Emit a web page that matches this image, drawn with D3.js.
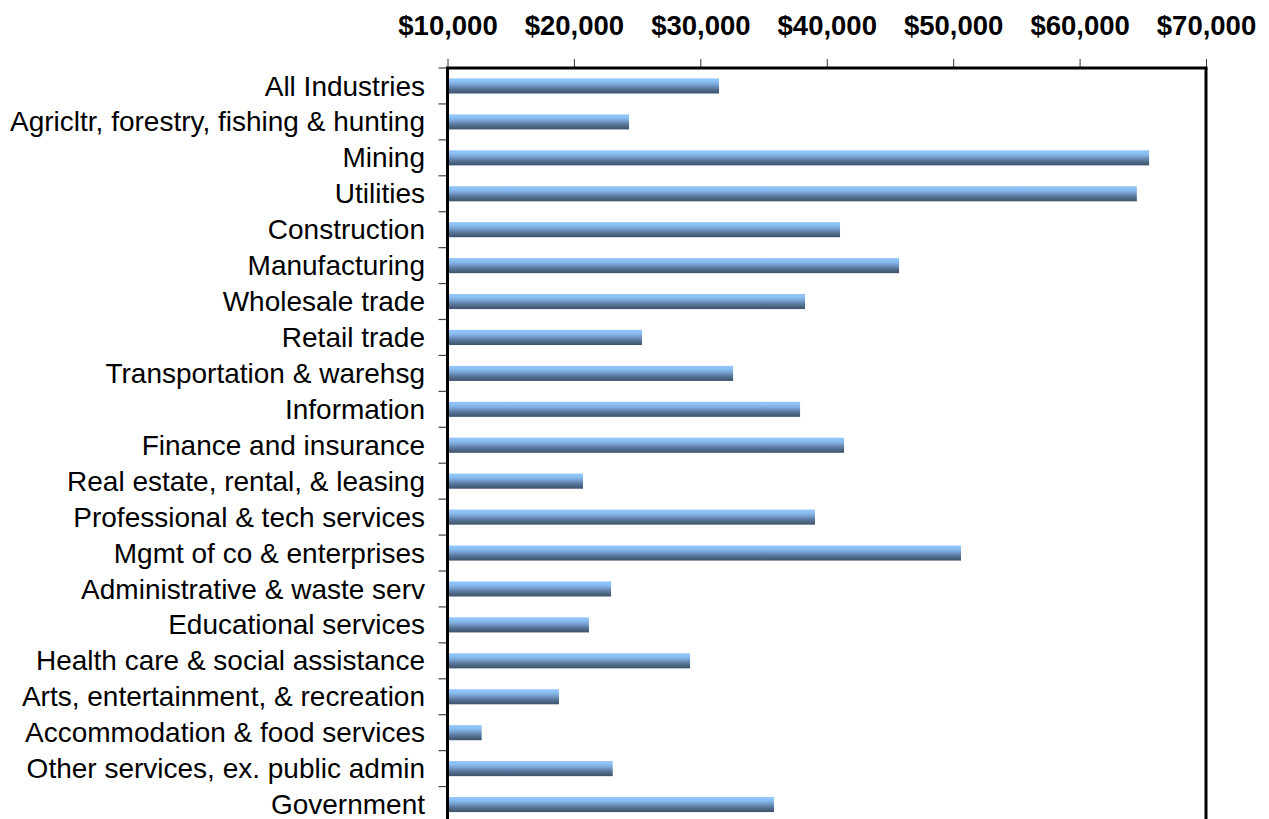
<!DOCTYPE html>
<html>
<head>
<meta charset="utf-8">
<script src="https://cdn.jsdelivr.net/npm/d3@7"></script>
<style>
  html, body { margin: 0; padding: 0; background: #fff; }
  svg { display: block; }
</style>
</head>
<body>
<svg id="chart" width="1269" height="819"></svg>
<script>
const categories = [
  "All Industries",
  "Agricltr, forestry, fishing & hunting",
  "Mining",
  "Utilities",
  "Construction",
  "Manufacturing",
  "Wholesale trade",
  "Retail trade",
  "Transportation & warehsg",
  "Information",
  "Finance and insurance",
  "Real estate, rental, & leasing",
  "Professional & tech services",
  "Mgmt of co & enterprises",
  "Administrative & waste serv",
  "Educational services",
  "Health care & social assistance",
  "Arts, entertainment, & recreation",
  "Accommodation & food services",
  "Other services, ex. public admin",
  "Government"
];
const values = [
  31480, 24360, 65500, 64530, 41050, 45720, 38280, 25390, 32590, 37890,
  41370, 20720, 39070, 50620, 22940, 21190, 29190, 18820, 12700, 23070, 35830
];
const tickValues = [10000, 20000, 30000, 40000, 50000, 60000, 70000];

(function () {
const svg = d3.select("#chart");

const pLeft = 447.5, pRight = 1206, pTop = 68, pBottom = 822.5;

const x = d3.scaleLinear().domain([10000, 70000]).range([pLeft, pRight]);
const y = d3.scaleBand().domain(categories).range([pTop, pBottom])
  .paddingInner(0.58).paddingOuter(0.29);

// gradient
const defs = svg.append("defs");
const grad = defs.append("linearGradient").attr("id", "barGrad")
  .attr("x1", 0).attr("y1", 0).attr("x2", 0).attr("y2", 1);
[
  [0, "#93c7fb"], [0.2, "#8cc0f4"], [0.4, "#7aa7d8"],
  [0.6, "#6383ab"], [0.8, "#4d6785"], [1, "#3d536c"]
].forEach(([o, c]) => grad.append("stop").attr("offset", o).attr("stop-color", c));

// bars
svg.append("g").selectAll("rect")
  .data(categories)
  .join("rect")
  .attr("x", x(10000))
  .attr("y", d => y(d))
  .attr("width", (d, i) => x(values[i]) - x(10000))
  .attr("height", y.bandwidth())
  .attr("fill", "url(#barGrad)");

// top axis
const xAxis = d3.axisTop(x)
  .tickValues(tickValues)
  .tickSize(9)
  .tickPadding(24)
  .tickFormat(d => "$" + d3.format(",")(d));
const gx = svg.append("g").attr("transform", `translate(0,${pTop})`).call(xAxis);
gx.select(".domain").remove();
gx.selectAll(".tick line").attr("stroke", "#333").attr("stroke-width", 1);
gx.selectAll(".tick text")
  .attr("fill", "#000")
  .style("font-family", "'Liberation Sans', Arial, sans-serif")
  .style("font-size", "27.5px")
  .style("font-weight", "bold");

// left category ticks at band boundaries
const boundaries = d3.range(categories.length + 1).map(i => y.range()[0] + i * y.step());
svg.append("g").selectAll("line")
  .data(boundaries)
  .join("line")
  .attr("x1", pLeft - 9).attr("x2", pLeft)
  .attr("y1", d => d).attr("y2", d => d)
  .attr("stroke", "#444").attr("stroke-width", 1.2);

// category labels
svg.append("g").selectAll("text")
  .data(categories)
  .join("text")
  .attr("x", 425)
  .attr("y", d => y(d) + y.bandwidth() / 2 + 9.6)
  .attr("text-anchor", "end")
  .style("font-family", "'Liberation Sans', Arial, sans-serif")
  .style("font-size", "28px")
  .attr("fill", "#000")
  .text(d => d);

// frame lines
const frame = svg.append("g").attr("stroke", "#000").attr("stroke-width", 3).attr("fill", "none");
frame.append("line").attr("x1", pLeft - 1.5).attr("x2", pRight + 1.5).attr("y1", pTop).attr("y2", pTop);
frame.append("line").attr("x1", pLeft).attr("x2", pLeft).attr("y1", pTop).attr("y2", pBottom);
frame.append("line").attr("x1", pRight).attr("x2", pRight).attr("y1", pTop).attr("y2", pBottom);
})();
</script>
</body>
</html>
